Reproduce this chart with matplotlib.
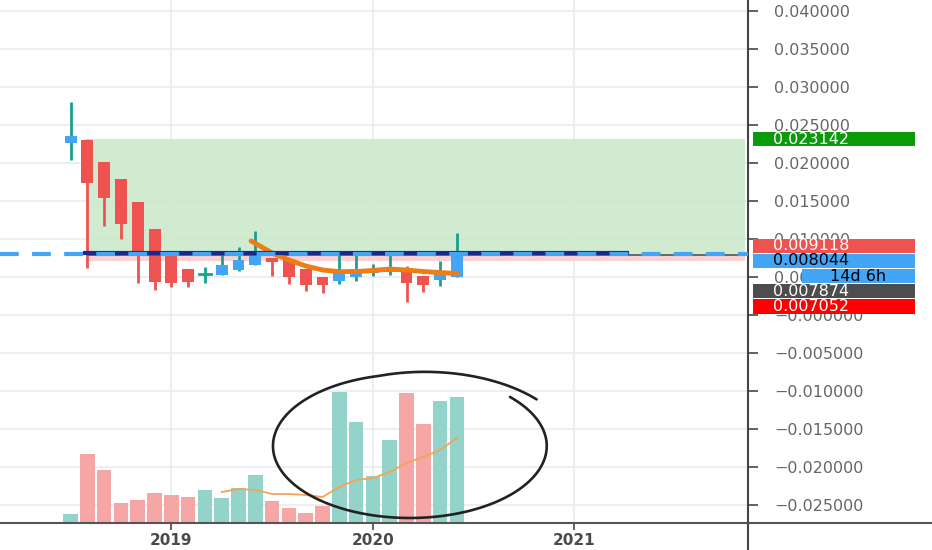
import matplotlib
matplotlib.use('Agg')
import matplotlib.pyplot as plt
import matplotlib.transforms as mtransforms
from matplotlib.patches import Rectangle
from matplotlib.lines import Line2D
import numpy as np

# monthly candles, Jul 2018 .. Jun 2020
months = ['2018-07', '2018-08', '2018-09', '2018-10', '2018-11', '2018-12',
          '2019-01', '2019-02', '2019-03', '2019-04', '2019-05', '2019-06',
          '2019-07', '2019-08', '2019-09', '2019-10', '2019-11', '2019-12',
          '2020-01', '2020-02', '2020-03', '2020-04', '2020-05', '2020-06']
opens  = [0.02263, 0.02303, 0.02017, 0.01786, 0.01487, 0.01136, 0.00812, 0.00601,
          0.00536, 0.00526, 0.00592, 0.00658, 0.00746, 0.00733, 0.00605, 0.00496,
          0.00447, 0.00504, 0.00557, 0.00566, 0.00601, 0.00513, 0.00461, 0.00496]
highs  = [0.02807, 0.02310, 0.02017, 0.01786, 0.01487, 0.01136, 0.00812, 0.00601,
          0.00636, 0.00803, 0.00899, 0.01109, 0.00746, 0.00733, 0.00605, 0.00496,
          0.00799, 0.00812, 0.00667, 0.00846, 0.00645, 0.00513, 0.00711, 0.01075]
lows   = [0.02040, 0.00614, 0.01171, 0.01000, 0.00417, 0.00329, 0.00372, 0.00372,
          0.00417, 0.00526, 0.00579, 0.00658, 0.00513, 0.00408, 0.00316, 0.00286,
          0.00408, 0.00451, 0.00513, 0.00526, 0.00175, 0.00307, 0.00386, 0.00496]
closes = [0.02355, 0.01733, 0.01543, 0.01193, 0.00812, 0.00438, 0.00425, 0.00438,
          0.00536, 0.00658, 0.00724, 0.00836, 0.00693, 0.00496, 0.00395, 0.00395,
          0.00570, 0.00601, 0.00592, 0.00636, 0.00425, 0.00395, 0.00539, 0.008044]

# price moving average (starts at 2019-06)
ma_start = 11
price_ma = [0.00974, 0.00816, 0.00724, 0.00645, 0.00592, 0.00570, 0.00572,
            0.00586, 0.00605, 0.00592, 0.00572, 0.00559, 0.00546]

# volume (arbitrary units) and its moving average (starts at 2019-04)
volume = [0.9, 6.9, 5.3, 2.0, 2.3, 3.0, 2.8, 2.6, 3.3, 2.5, 3.5, 4.8,
          2.2, 1.5, 1.0, 1.7, 13.1, 10.1, 4.7, 8.3, 13.0, 9.9, 12.2, 12.6]
vol_ma_start = 9
vol_ma = [3.1, 3.4, 3.3, 2.9, 2.9, 2.8, 2.6, 3.6, 4.3, 4.5, 5.1, 6.0, 6.6, 7.3, 8.5]

# long position tool
target_price = 0.023142
entry_price = 0.007874
stop_price = 0.007052
last_price = 0.008044
marker_price = 0.009118
navy_price = 0.00816

year_labels = ['2019', '2020', '2021']

RED = '#ef5350'
BLUE = '#42a5f5'
TEAL = '#1aa08c'

x = np.arange(len(months))
first_year = int(months[0][:4])
first_month = int(months[0][5:])
year_pos = [(int(y) - first_year) * 12 + 1 - first_month for y in year_labels]

fig = plt.figure(figsize=(9.32, 5.5), dpi=100)
rect = [0, 27 / 550, 748 / 932, 523 / 550]
xlim = (-4.2, 40.33)
ylim = (-0.027368, 0.041447)

# volume on its own scale, drawn underneath the price axes
axv = fig.add_axes(rect)
axv.set_xlim(*xlim)
axv.set_ylim(0, 52.3)
axv.axis('off')

ax = fig.add_axes(rect)
ax.patch.set_visible(False)
ax.set_xlim(*xlim)
ax.set_ylim(*ylim)

# gridlines on the volume axes so they sit behind everything
yt = np.round(np.arange(-0.025, 0.0401, 0.005), 6)
for v in yt:
    axv.axhline((v - ylim[0]) / (ylim[1] - ylim[0]) * 52.3, color='#eaedf0', lw=1.3, zorder=0)
for p in year_pos:
    axv.axvline(p, color='#eaedf0', lw=1.3, zorder=0)

vol_colors = ['#93d3c9' if c >= o else '#f6a6a4' for o, c in zip(opens, closes)]
axv.bar(x, volume, width=0.87, color=vol_colors, zorder=1)
axv.plot(x[vol_ma_start:vol_ma_start + len(vol_ma)], vol_ma, color='#f5a25a', lw=1.3, zorder=2)

ax.set_yticks(yt)
ax.set_yticklabels([('\u2212' if v <= 0 else '') + f'{abs(v):.6f}' for v in yt])
ax.yaxis.tick_right()
ax.set_xticks(year_pos)
ax.set_xticklabels(year_labels, fontweight='bold')
ax.tick_params(axis='y', length=7, width=1.3, color='#555555', labelcolor='#666666',
               labelsize=11.5, pad=12)
ax.tick_params(axis='x', length=5, width=1.3, color='#555555', labelcolor='#4a4a4a',
               labelsize=11, pad=2)
for s in ['left', 'top']:
    ax.spines[s].set_visible(False)
ax.spines['right'].set_color('#444444')
ax.spines['right'].set_linewidth(1.5)
ax.spines['bottom'].set_color('#555555')
ax.spines['bottom'].set_linewidth(1.5)
fig.add_artist(Line2D([748 / 932, 748 / 932], [0, 27 / 550], color='#444444', lw=1.5))
fig.add_artist(Line2D([748 / 932, 1], [27 / 550, 27 / 550], color='#555555', lw=1.5))

# position tool
pos_x0, pos_x1 = 1.05, 40.15
ax.add_patch(Rectangle((pos_x0, entry_price), pos_x1 - pos_x0, target_price - entry_price,
                       facecolor='#cbe9ca', edgecolor='none', alpha=0.9, zorder=1))
ax.add_patch(Rectangle((pos_x0, stop_price), pos_x1 - pos_x0, entry_price - stop_price,
                       facecolor='#fbd0d0', edgecolor='none', zorder=1))
ax.plot([pos_x0, pos_x1], [entry_price, entry_price], color='#555555', lw=1.2, zorder=4)

# candles
for i in range(len(x)):
    up = closes[i] >= opens[i]
    wick = TEAL if up else RED
    body = BLUE if up else RED
    ax.plot([x[i], x[i]], [lows[i], highs[i]], color=wick, lw=2, zorder=3,
            solid_capstyle='butt')
    lo, hi = min(opens[i], closes[i]), max(opens[i], closes[i])
    if hi - lo < 0.0001:
        ax.plot([x[i] - 0.35, x[i] + 0.35], [lo, lo], color=TEAL, lw=2, zorder=3)
    else:
        ax.add_patch(Rectangle((x[i] - 0.355, lo), 0.71, hi - lo, facecolor=body,
                               edgecolor='none', zorder=3))

ax.plot(x[ma_start:ma_start + len(price_ma)] + np.r_[-0.25, np.zeros(len(price_ma) - 1)],
        price_ma, color='#f07c14', lw=3.5, solid_capstyle='round', zorder=4)

# price lines
ax.plot([0.85, 33.1], [navy_price, navy_price], color='#1a2a8c', lw=3, zorder=5)
ax.axhline(last_price, color=BLUE, lw=3, dashes=(4.5, 3.2), zorder=6)

# hand drawn circle around the volume spike
cx, cy, rx, ry = 20.2, -0.01724, 8.15, 0.00947
sweep = np.linspace(0, 368, 400)
t = np.deg2rad(43 - sweep)
r = 1 + 0.13 * np.clip((sweep - 300) / 68, 0, None)
ax.plot(cx + rx * r * np.cos(t), cy + ry * r * np.sin(t), color='#222222', lw=1.9,
        solid_capstyle='round', zorder=7)

# price scale labels
trans = mtransforms.blended_transform_factory(ax.transAxes, ax.transData)
bh = 0.00185
def price_box(y, text, face, color, x0=753 / 748, x1=915 / 748, center=False):
    ax.add_patch(Rectangle((x0, y - bh / 2), x1 - x0, bh, transform=trans, facecolor=face,
                           edgecolor='none', clip_on=False, zorder=20))
    tx = (x0 + x1) / 2 if center else 773 / 748
    ax.text(tx, y, text, transform=trans, color=color, fontsize=11.5, va='center',
            ha='center' if center else 'left', clip_on=False, zorder=21)

price_box(target_price, f'{target_price:.6f}', '#0a9a0a', 'white')
step = 0.002
price_box(marker_price, f'{marker_price:.6f}', RED, 'white')
price_box(marker_price - step, f'{last_price:.6f}', BLUE, 'black')
price_box(marker_price - 2 * step, '14d 6h', BLUE, 'black', x0=802 / 748, center=True)
price_box(marker_price - 3 * step, f'{entry_price:.6f}', '#4d4d4d', 'white')
price_box(marker_price - 4 * step, f'{stop_price:.6f}', '#ff0000', 'white')

fig.savefig('out.png', dpi=100)
